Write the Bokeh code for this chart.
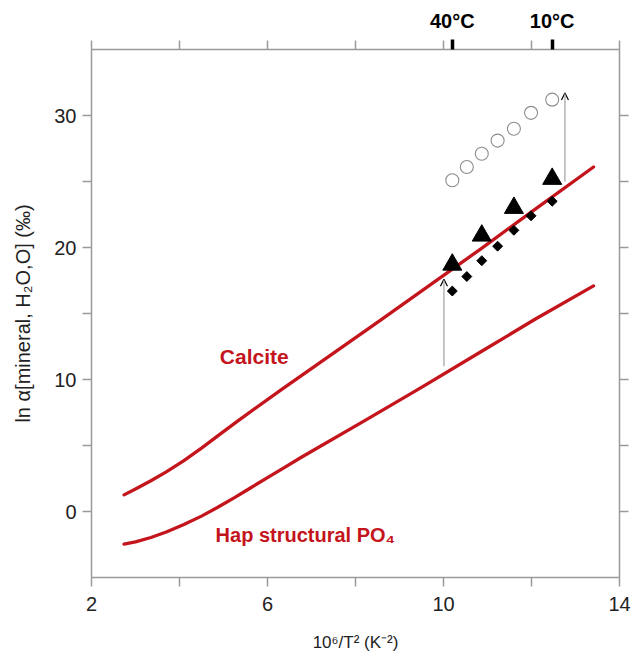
from bokeh.plotting import figure
from bokeh.models import (LinearAxis, FixedTicker, Range1d, Arrow, OpenHead,
                          ColumnDataSource, Label)
from bokeh.embed import file_html
from bokeh.resources import INLINE

# ---------------- data ----------------
calcite_x = [2.74, 3.00, 3.35, 3.70, 4.10, 4.50, 4.90, 5.32, 6.30, 7.50, 8.57, 10.09, 10.85, 12.00, 13.41]
calcite_y = [1.26, 1.70, 2.33, 3.00, 3.85, 4.80, 5.80, 6.85, 9.20, 12.00, 14.50, 18.10, 19.90, 22.70, 26.10]

hap_x = [2.74, 3.00, 3.35, 3.70, 4.10, 4.50, 4.86, 5.25, 5.62, 6.00, 6.38, 6.76, 8.20, 9.50, 10.85, 12.10, 13.41]
hap_y = [-2.47, -2.30, -1.97, -1.55, -0.98, -0.35, 0.30, 1.05, 1.80, 2.57, 3.33, 4.09, 6.87, 9.40, 12.10, 14.60, 17.09]

series_x = [10.20, 10.53, 10.87, 11.23, 11.60, 11.99, 12.47]
circle_y = [25.1, 26.1, 27.1, 28.1, 29.0, 30.2, 31.2]
diamond_y = [16.7, 17.8, 19.0, 20.1, 21.3, 22.4, 23.5]

tri_x = [10.20, 10.87, 11.60, 12.47]
tri_y = [18.7, 20.9, 23.0, 25.2]

arrow_x = [10.01, 12.76]
arrow_y0 = [11.0, 25.0]
arrow_y1 = [17.6, 31.7]

x_major = [2, 6, 10, 14]
x_minor = [4, 8, 12]
y_major = [0, 10, 20, 30]
y_minor = [5, 15, 25]
top_minor = [2, 4, 6, 8, 10, 12, 14]
temp_ticks = [10.20, 12.47]
temp_labels = ["40°C", "10°C"]

# ---------------- style ----------------
FONT = "Liberation Sans"
RED = "#c4141c"
AXIS_GRAY = "#9a9a9a"
TXT = "#222222"

p = figure(width=631, height=657, output_backend="svg", toolbar_location=None,
           x_range=Range1d(2, 14), y_range=Range1d(-5, 35),
           x_axis_type=None, y_axis_type=None,
           min_border_left=91, min_border_top=49, min_border_right=12,
           min_border_bottom=80)
p.outline_line_color = None
p.xgrid.visible = False
p.ygrid.visible = False
p.background_fill_color = "white"
p.border_fill_color = "white"


def style_axis(ax):
    ax.axis_line_color = AXIS_GRAY
    ax.axis_line_width = 1.5
    ax.major_tick_line_color = AXIS_GRAY
    ax.minor_tick_line_color = AXIS_GRAY
    ax.major_tick_line_width = 1.5
    ax.minor_tick_line_width = 1.5
    ax.major_tick_in = 0
    ax.major_tick_out = 9
    ax.minor_tick_in = 0
    ax.minor_tick_out = 9
    ax.major_label_text_font = FONT
    ax.major_label_text_font_size = "20px"
    ax.major_label_text_color = TXT
    ax.axis_label_text_font = FONT
    ax.axis_label_text_font_size = "17px"
    ax.axis_label_text_font_style = "normal"
    ax.axis_label_text_color = TXT


xb = LinearAxis(ticker=FixedTicker(ticks=x_major, minor_ticks=x_minor),
                axis_label="10⁶/T² (K⁻²)")
style_axis(xb)
xb.major_label_standoff = 10
xb.axis_label_standoff = 19
p.add_layout(xb, "below")

yl = LinearAxis(ticker=FixedTicker(ticks=y_major, minor_ticks=y_minor),
                axis_label="ln α[mineral, H₂O,O] (‰)")
style_axis(yl)
yl.axis_label_text_font_size = "20px"
yl.major_label_standoff = 6
yl.axis_label_standoff = 17
p.add_layout(yl, "left")

yr = LinearAxis(ticker=FixedTicker(ticks=y_major, minor_ticks=y_minor),
                major_label_overrides={v: "" for v in y_major})
style_axis(yr)
yr.major_label_standoff = 0
p.add_layout(yr, "right")

xt = LinearAxis(ticker=FixedTicker(ticks=temp_ticks, minor_ticks=top_minor),
                major_label_overrides={t: l for t, l in zip(temp_ticks, temp_labels)})
style_axis(xt)
xt.major_tick_line_color = "black"
xt.major_tick_line_width = 3.5
xt.major_tick_out = 10
xt.major_label_text_font_style = "bold"
xt.major_label_text_color = "black"
xt.major_label_text_font_size = "20px"
xt.major_label_standoff = 8
p.add_layout(xt, "above")

# ---------------- curves ----------------
p.line(calcite_x, calcite_y, line_color=RED, line_width=3.3, line_join="round", line_cap="round")
p.line(hap_x, hap_y, line_color=RED, line_width=3.3, line_join="round", line_cap="round")

# ---------------- arrows ----------------
for ax_, a0, a1 in zip(arrow_x, arrow_y0, arrow_y1):
    p.add_layout(Arrow(end=OpenHead(size=7, line_color="black", line_width=1.2),
                       x_start=ax_, y_start=a0, x_end=ax_, y_end=a1,
                       line_color="#a8a8a8", line_width=1.3))

# ---------------- markers ----------------
src_c = ColumnDataSource(dict(x=series_x, y=circle_y))
p.scatter("x", "y", source=src_c, marker="circle", size=13, fill_color=None,
          line_color="#8c8c8c", line_width=1.1)

src_d = ColumnDataSource(dict(x=series_x, y=diamond_y))
p.scatter("x", "y", source=src_d, marker="square", size=7, angle=0.785398,
          fill_color="black", line_color="black")

src_t = ColumnDataSource(dict(x=tri_x, y=tri_y))
p.scatter("x", "y", source=src_t, marker="triangle", size=19,
          fill_color="black", line_color="black")

# ---------------- labels ----------------
p.add_layout(Label(x=5.70, y=11.71, text="Calcite", text_font=FONT,
                   text_font_size="21px", text_font_style="bold", text_color=RED,
                   text_align="center", text_baseline="middle"))
p.add_layout(Label(x=4.82, y=-1.75, text="Hap structural PO₄", text_font=FONT,
                   text_font_size="20px", text_font_style="bold", text_color=RED,
                   text_align="left", text_baseline="middle"))

open("out.html", "w").write(file_html(p, INLINE))
